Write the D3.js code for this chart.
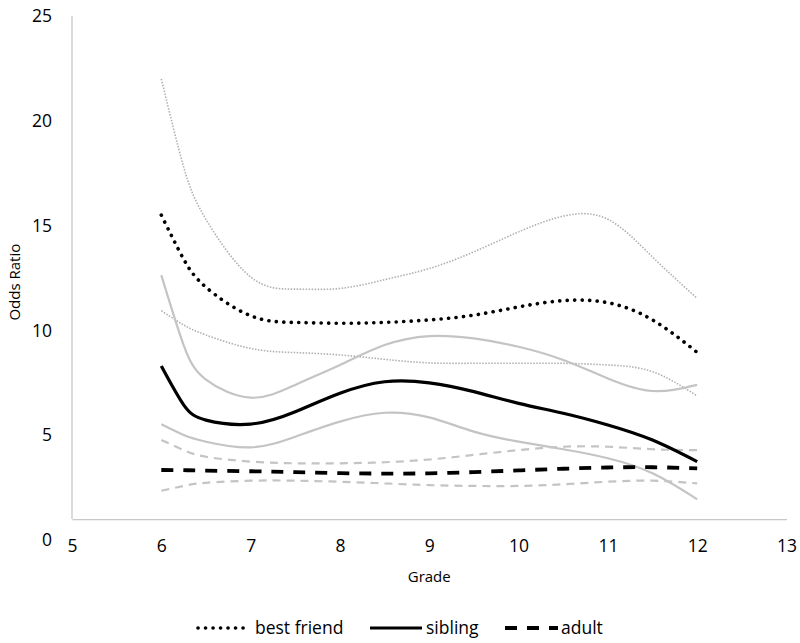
<!DOCTYPE html>
<html>
<head>
<meta charset="utf-8">
<script src="https://cdn.jsdelivr.net/npm/d3@7"></script>
<style>
  body { margin: 0; background: #fff; }
  text { font-family: "Open Sans", "Noto Sans", sans-serif; fill: #000; }
</style>
</head>
<body>
<div id="my_dataviz"></div>
<script>
// data

const grades = [6, 6.25, 6.5, 7, 7.5, 8, 8.5, 9, 9.5, 10, 10.5, 11, 11.5, 12]

const bestFriend   = [15.5, 13.4, 12.06, 10.7, 10.38, 10.34, 10.38, 10.5, 10.73, 11.12, 11.42, 11.32, 10.5, 8.95]
const bestFriendHi = [22.0, 17.8, 15.3, 12.55, 11.97, 12.0, 12.42, 12.95, 13.75, 14.7, 15.45, 15.3, 13.5, 11.53]
const bestFriendLo = [10.94, 10.26, 9.78, 9.14, 8.94, 8.83, 8.62, 8.45, 8.43, 8.43, 8.43, 8.35, 8.03, 6.87]

const sibling   = [8.3, 6.45, 5.72, 5.53, 6.12, 7.0, 7.55, 7.5, 7.08, 6.52, 6.05, 5.49, 4.77, 3.74]
const siblingHi = [12.64, 9.3, 7.65, 6.79, 7.4, 8.35, 9.3, 9.73, 9.62, 9.22, 8.59, 7.71, 7.11, 7.4]
const siblingLo = [5.52, 5.01, 4.69, 4.42, 4.93, 5.65, 6.07, 5.85, 5.17, 4.69, 4.33, 3.9, 3.18, 1.94]

const adult   = [3.34, 3.33, 3.31, 3.28, 3.24, 3.19, 3.17, 3.18, 3.24, 3.32, 3.4, 3.46, 3.47, 3.42]
const adultHi = [4.77, 4.29, 3.97, 3.74, 3.66, 3.66, 3.71, 3.84, 4.06, 4.29, 4.45, 4.45, 4.33, 4.29]
const adultLo = [2.35, 2.58, 2.73, 2.83, 2.83, 2.78, 2.7, 2.62, 2.58, 2.58, 2.66, 2.78, 2.83, 2.7]

const xTicks = [5, 6, 7, 8, 9, 10, 11, 12, 13]
const yTicks = [0, 5, 10, 15, 20, 25]

// line styles
const styles = {
  dotBlack:  {stroke: "#000", width: 3.6, dash: "0.1 7.4", cap: "round"},
  dotGrey:   {stroke: "#b0b0b0", width: 1.6, dash: "1.5 1.5", cap: "butt"},
  solidBlack:{stroke: "#000", width: 3.2, dash: null, cap: "butt"},
  solidGrey: {stroke: "#c4c4c4", width: 2.2, dash: null, cap: "butt"},
  dashBlack: {stroke: "#000", width: 3.8, dash: "12 10", cap: "butt"},
  dashGrey:  {stroke: "#c4c4c4", width: 2.2, dash: "8 6", cap: "butt"}
}

const series = [
  {values: bestFriendHi, style: "dotGrey"},
  {values: bestFriendLo, style: "dotGrey"},
  {values: siblingHi, style: "solidGrey"},
  {values: siblingLo, style: "solidGrey"},
  {values: adultHi, style: "dashGrey"},
  {values: adultLo, style: "dashGrey"},
  {values: bestFriend, style: "dotBlack"},
  {values: sibling, style: "solidBlack"},
  {values: adult, style: "dashBlack"}
]

const W = 800, H = 643
const margin = {top: 16, left: 72},
    width = 714.5,
    height = 524

const svg = d3.select("#my_dataviz")
  .append("svg")
    .attr("width", W)
    .attr("height", H)

const x = d3.scaleLinear().domain([5, 13]).range([margin.left, margin.left + width])
const y = d3.scaleLinear().domain([0, 25]).range([margin.top + height, margin.top])

// horizontal axis crosses at 1
const xAxis = svg.append("g")
  .attr("transform", `translate(0,${y(1)})`)
  .call(d3.axisBottom(x).tickValues(xTicks).tickSize(0).tickSizeOuter(0).tickPadding(21))
xAxis.select(".domain").attr("stroke", "#c8c8c8").attr("stroke-width", 1.3)
xAxis.selectAll("text").style("font-size", "17.5px").attr("fill", "#000")

const yAxis = svg.append("g")
  .attr("transform", `translate(${x(5)},0)`)
  .call(d3.axisLeft(y).tickValues(yTicks).tickSize(0).tickPadding(20))
yAxis.select(".domain").remove()
yAxis.selectAll("text").style("font-size", "17.5px").attr("fill", "#000")

svg.append("line")
  .attr("x1", x(5)).attr("x2", x(5))
  .attr("y1", y(25)).attr("y2", y(1))
  .attr("stroke", "#c8c8c8")
  .attr("stroke-width", 1.3)

// axis titles
svg.append("text")
  .text("Grade")
  .attr("x", x(9))
  .attr("y", 582)
  .attr("text-anchor", "middle")
  .style("font-size", "15px")

svg.append("text")
  .text("Odds Ratio")
  .attr("transform", `translate(20,${y(12.3)}) rotate(-90)`)
  .attr("text-anchor", "middle")
  .style("font-size", "15px")

// curves
const line = d3.line()
  .x((d, i) => x(grades[i]))
  .y(d => y(d))
  .curve(d3.curveNatural)

function applyStyle(sel, key) {
  const s = styles[key]
  sel.attr("fill", "none")
    .attr("stroke", s.stroke)
    .attr("stroke-width", s.width)
    .attr("stroke-linecap", s.cap)
    .attr("stroke-dasharray", s.dash)
}

svg.append("g").selectAll("path")
  .data(series)
  .join("path")
    .attr("d", d => line(d.values))
    .each(function(d) { applyStyle(d3.select(this), d.style) })

// legend
const legend = [
  {label: "best friend", style: "dotBlack", x0: 198, x1: 248, tx: 255},
  {label: "sibling", style: "solidBlack", x0: 370, x1: 422, tx: 426},
  {label: "adult", style: "dashBlack", x0: 505, x1: 558, tx: 561}
]
const lg = svg.append("g").attr("id", "legend")
legend.forEach(d => {
  lg.append("line")
    .attr("x1", d.x0).attr("x2", d.x1)
    .attr("y1", 628).attr("y2", 628)
    .call(applyStyle, d.style)
  lg.append("text")
    .text(d.label)
    .attr("x", d.tx)
    .attr("y", 634)
    .style("font-size", "17.5px")
})
</script>
</body>
</html>
